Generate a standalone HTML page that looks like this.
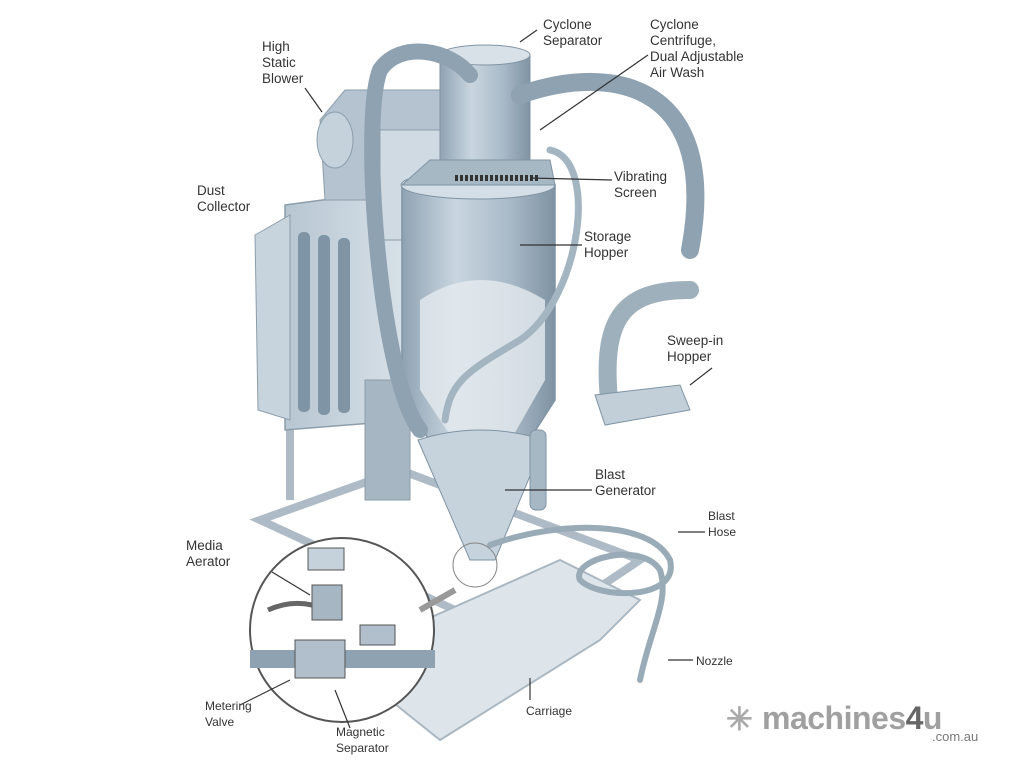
<!DOCTYPE html>
<html><head><meta charset="utf-8"><style>
html,body{margin:0;padding:0;background:#fff;}
svg{display:block}
text{font-family:"Liberation Sans",sans-serif;font-size:13.5px;fill:#333;}
</style></head><body>
<svg width="1024" height="768" viewBox="0 0 1024 768" xmlns="http://www.w3.org/2000/svg">
<defs>
<linearGradient id="cyl" x1="0" x2="1" y1="0" y2="0">
<stop offset="0" stop-color="#8fa3b3"/><stop offset="0.35" stop-color="#c9d6e0"/><stop offset="0.7" stop-color="#a9bac8"/><stop offset="1" stop-color="#7f93a3"/>
</linearGradient>
<linearGradient id="box" x1="0" x2="1"><stop offset="0" stop-color="#b7c6d2"/><stop offset="1" stop-color="#d9e2e9"/></linearGradient>
</defs>
<g stroke="#9aabb8" stroke-width="8" fill="none" opacity="0.8">
<path d="M260 520 L400 470 L640 560 L520 640 Z"/>
<path d="M290 210 L290 500 M420 720 L600 610 M420 720 L400 690"/>
</g>
<path d="M380 640 L560 560 L640 600 L600 640 L440 740 L390 700 Z" fill="#dde5eb" stroke="#a9b7c2" stroke-width="2"/>
<path d="M285 205 L360 195 L410 210 L410 420 L285 430 Z" fill="url(#box)" stroke="#8c9daa" stroke-width="1.5"/>
<path d="M255 235 L290 215 L290 420 L258 410 Z" fill="#c8d4dd" stroke="#8c9daa"/>
<g fill="#7f95a6"><rect x="298" y="232" width="12" height="180" rx="5"/><rect x="318" y="235" width="12" height="180" rx="5"/><rect x="338" y="238" width="12" height="175" rx="5"/></g>
<rect x="365" y="380" width="45" height="120" fill="#a6b6c2" stroke="#8c9daa"/>
<path d="M320 120 L345 90 L450 90 L450 200 L325 200 Z" fill="#b4c3cf" stroke="#8c9daa"/>
<ellipse cx="335" cy="140" rx="18" ry="28" fill="#c5d2dc" stroke="#8c9daa"/>
<rect x="380" y="130" width="60" height="110" fill="#cfdae2" stroke="#8c9daa"/>
<path d="M402 185 L555 185 L555 400 L510 470 L450 470 L402 400 Z" fill="url(#cyl)" stroke="#7f93a3" stroke-width="1.5"/>
<ellipse cx="478" cy="185" rx="77" ry="14" fill="#d4dee6" stroke="#7f93a3"/>
<path d="M420 300 Q480 260 545 300 L545 380 L505 450 L460 450 L420 390 Z" fill="#e5ebef" opacity="0.8"/>
<path d="M418 440 Q480 420 545 440 L495 560 L470 560 Z" fill="#c6d3dd" stroke="#7f93a3"/>
<rect x="440" y="55" width="90" height="115" fill="url(#cyl)" stroke="#7f93a3"/>
<ellipse cx="485" cy="55" rx="45" ry="10" fill="#d8e1e8" stroke="#7f93a3"/>
<path d="M430 160 L550 160 L555 185 L402 185 Z" fill="#a7b8c5" stroke="#7f93a3"/>
<path d="M455 178 L540 178" stroke="#333" stroke-width="6" stroke-dasharray="3 2"/>
<g fill="none" stroke-linecap="round">
<path d="M420 430 C380 380 360 120 380 70 C400 40 450 50 470 75" stroke="#8fa2b1" stroke-width="16"/>
<path d="M520 95 C620 60 720 90 690 250" stroke="#8fa2b1" stroke-width="18"/>
<path d="M690 290 C620 290 600 320 610 410" stroke="#9fb0bd" stroke-width="18"/>
<path d="M550 150 C600 160 580 300 520 340 C470 370 450 380 445 420" stroke="#a4b5c2" stroke-width="7"/>
<path d="M490 545 C560 520 650 520 670 560 C680 600 600 600 580 580 C570 560 640 540 660 570 C670 600 650 630 640 680" stroke="#9aabb8" stroke-width="6"/>
</g>
<path d="M595 395 L680 385 L690 410 L605 425 Z" fill="#c2cfd9" stroke="#7f93a3"/>
<rect x="530" y="430" width="16" height="80" rx="6" fill="#a7b8c5" stroke="#7f93a3"/>
<circle cx="342" cy="630" r="92" fill="#fff" stroke="#555" stroke-width="2"/>
<rect x="250" y="650" width="185" height="18" fill="#8fa2b1"/>
<rect x="295" y="640" width="50" height="38" fill="#b0bfcb" stroke="#555"/>
<rect x="312" y="585" width="30" height="35" fill="#a6b6c2" stroke="#555"/>
<rect x="308" y="548" width="36" height="22" fill="#c5d2dc" stroke="#555"/>
<path d="M268 610 Q290 600 312 605" stroke="#666" stroke-width="5" fill="none"/>
<rect x="360" y="625" width="35" height="20" fill="#b0bfcb" stroke="#555"/>
<path d="M420 610 L455 590" stroke="#999" stroke-width="6"/>
<circle cx="475" cy="565" r="22" fill="none" stroke="#888"/>
<g stroke="#333" stroke-width="1.2" fill="none">
<path d="M305 88 L322 112"/><path d="M537 30 L520 42"/><path d="M648 55 L540 130"/>
<path d="M612 180 L530 178"/><path d="M582 245 L520 245"/><path d="M712 368 L690 385"/>
<path d="M592 490 L505 490"/><path d="M705 532 L678 532"/><path d="M272 572 L310 595"/>
<path d="M693 660 L668 660"/><path d="M240 705 L290 680"/><path d="M530 700 L530 678"/><path d="M350 728 L335 690"/>
</g>
<text x="262" y="51">High</text><text x="262" y="67">Static</text><text x="262" y="83">Blower</text>
<text x="543" y="29">Cyclone</text><text x="543" y="45">Separator</text>
<text x="650" y="29">Cyclone</text><text x="650" y="45">Centrifuge,</text><text x="650" y="61">Dual Adjustable</text><text x="650" y="77">Air Wash</text>
<text x="197" y="195">Dust</text><text x="197" y="211">Collector</text>
<text x="614" y="181">Vibrating</text><text x="614" y="197">Screen</text>
<text x="584" y="241">Storage</text><text x="584" y="257">Hopper</text>
<text x="667" y="345">Sweep-in</text><text x="667" y="361">Hopper</text>
<text x="595" y="479">Blast</text><text x="595" y="495">Generator</text>
<text x="708" y="520" style="font-size:12px">Blast</text><text x="708" y="536" style="font-size:12px">Hose</text>
<text x="186" y="550">Media</text><text x="186" y="566">Aerator</text>
<text x="696" y="665" style="font-size:12px">Nozzle</text>
<text x="205" y="710" style="font-size:12px">Metering</text><text x="205" y="726" style="font-size:12px">Valve</text>
<text x="526" y="715" style="font-size:12px">Carriage</text>
<text x="336" y="736" style="font-size:12px">Magnetic</text><text x="336" y="752" style="font-size:12px">Separator</text>
<text x="726" y="730" style="font-size:32px;fill:#aaa;font-weight:bold">✳</text>
<text x="762" y="729" style="font-size:32px;fill:#a0a0a0;font-weight:bold;letter-spacing:-0.5px">machines<tspan fill="#666">4</tspan>u</text>
<text x="932" y="741" style="font-size:13px;fill:#777">.com.au</text>
</svg>
</body></html>
